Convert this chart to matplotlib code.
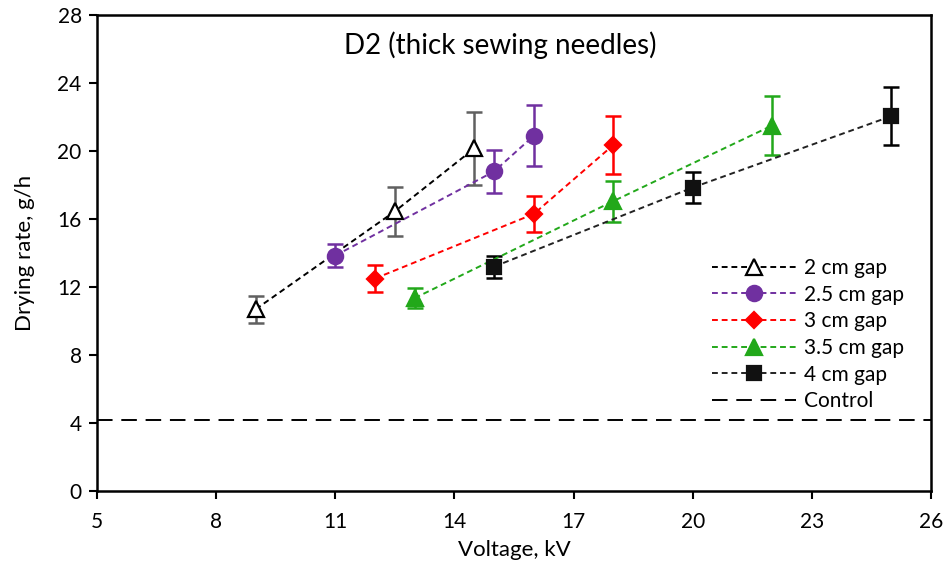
import matplotlib
matplotlib.use("Agg")
import matplotlib.pyplot as plt

plt.rcParams['font.family'] = ['Lato', 'DejaVu Sans']

# Drying rate (g/h) vs applied voltage (kV) for each electrode gap
v_2cm = [9, 12.5, 14.5]
r_2cm = [10.7, 16.45, 20.15]
e_2cm = [0.8, 1.45, 2.15]

v_25cm = [11, 15, 16]
r_25cm = [13.85, 18.8, 20.9]
e_25cm = [0.7, 1.25, 1.8]

v_3cm = [12, 16, 18]
r_3cm = [12.5, 16.3, 20.35]
e_3cm = [0.8, 1.05, 1.7]

v_35cm = [13, 18, 22]
r_35cm = [11.35, 17.05, 21.5]
e_35cm = [0.6, 1.2, 1.75]

v_4cm = [15, 20, 25]
r_4cm = [13.2, 17.85, 22.05]
e_4cm = [0.65, 0.9, 1.7]

control_rate = 4.2

x_ticks = [5, 8, 11, 14, 17, 20, 23, 26]
y_ticks = [0, 4, 8, 12, 16, 20, 24, 28]

fig = plt.figure(figsize=(9.48, 5.69), dpi=100)
ax = fig.add_axes([0.1023, 0.137, 0.8797, 0.8366])

dash = (0, (3, 2))
series = [
    (v_2cm, r_2cm, e_2cm, '2 cm gap', '^', 'white', 'black', 'black', '#606060', 11),
    (v_25cm, r_25cm, e_25cm, '2.5 cm gap', 'o', '#7030A0', '#7030A0', '#7030A0', '#7030A0', 11),
    (v_3cm, r_3cm, e_3cm, '3 cm gap', 'D', '#FF0000', '#FF0000', '#FF0000', '#FF0000', 8),
    (v_35cm, r_35cm, e_35cm, '3.5 cm gap', '^', '#22A81A', '#22A81A', '#22A81A', '#22A81A', 11),
    (v_4cm, r_4cm, e_4cm, '4 cm gap', 's', '#111111', '#111111', '#222222', 'black', 9.5),
]

handles = []
for x, y, e, lab, mk, fc, ec, lc, errc, ms in series:
    ax.errorbar(x, y, yerr=e, fmt='none', ecolor=errc, elinewidth=1.8,
                capsize=6, capthick=1.8, zorder=2)
    h, = ax.plot(x, y, linestyle=dash, color=lc, linewidth=1.4, marker=mk,
                 markersize=ms, markerfacecolor=fc, markeredgecolor=ec,
                 markeredgewidth=1.6, label=lab, zorder=3)
    handles.append(h)

hc = ax.axhline(control_rate, color='black', linewidth=1.4,
                linestyle=(0, (8, 4.5)), label='Control', zorder=1)
handles.append(hc)

ax.set_xlim(5, 26)
ax.set_ylim(0, 28)
ax.set_xticks(x_ticks)
ax.set_yticks(y_ticks)
ax.tick_params(axis='both', direction='out', length=6, width=1.5,
               labelsize=15, colors='black')
ax.tick_params(axis='x', pad=9)
ax.tick_params(axis='y', pad=5)
for s in ax.spines.values():
    s.set_linewidth(1.8)

ax.set_xlabel('Voltage, kV', fontsize=16, labelpad=6)
ax.set_ylabel('Drying rate, g/h', fontsize=16, labelpad=16)

ax.text(0.483, 0.937, 'D2 (thick sewing needles)', transform=ax.transAxes,
        ha='center', va='center', fontsize=20)

leg = ax.legend(handles=handles, loc='upper left', bbox_to_anchor=(0.728, 0.507),
                frameon=False, fontsize=15, handlelength=4.0, handletextpad=0.4,
                labelspacing=0.32, borderaxespad=0)

fig.savefig('out.png', dpi=100)
